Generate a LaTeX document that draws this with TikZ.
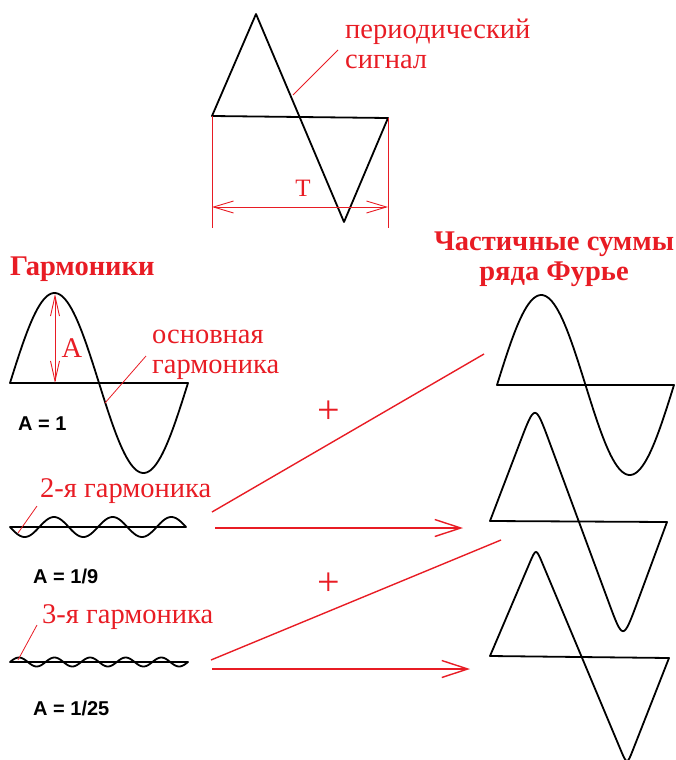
\documentclass[tikz,border=0pt]{standalone}
\usepackage{fontspec}
\setmainfont{Liberation Serif}
\newfontfamily\ampfont{Liberation Sans}
\usetikzlibrary{arrows.meta,positioning,calc}
\definecolor{sigred}{RGB}{232,28,36}

\begin{document}
\begin{tikzpicture}[x=1pt,y=-1pt,
  wave/.style={line width=1.8pt,line join=round},
  redline/.style={sigred,line width=1.4pt},
  leader/.style={sigred,line width=0.8pt},
  dimline/.style={sigred,line width=0.9pt},
  barb/.style={-{Straight Barb[length=26pt,width=17pt]}},
  dimbarb/.style={{Straight Barb[length=20pt,width=12pt]}-{Straight Barb[length=20pt,width=12pt]}},
  lbl/.style={text=sigred,font=\fontsize{28.5}{30}\selectfont,inner sep=0pt,align=left},
  head/.style={text=sigred,font=\bfseries\fontsize{28.5}{30}\selectfont,inner sep=0pt,align=center},
  amp/.style={font=\ampfont\bfseries\fontsize{20}{22}\selectfont,inner sep=0pt},
  plus/.style={text=sigred,font=\fontsize{40}{40}\selectfont,inner sep=0pt}]
\useasboundingbox (0,0) rectangle (676,760);

% periodic signal (triangle) with its period
\coordinate (tri-l) at (212,116);
\coordinate (tri-r) at (388,118);
\draw[wave] (tri-l) -- (256,14) -- (344,222) -- (tri-r) -- cycle;
\coordinate (tri-lb) at (212,228);
\coordinate (tri-rb) at (388,228);
\draw[dimline] (tri-l) -- (tri-lb);
\draw[dimline] (tri-r) -- (tri-rb);
\draw[dimline,dimbarb] (212,207) -- (388,207);
\node[lbl,font=\fontsize{25}{26}\selectfont,anchor=base] (period) at (303,196) {T};
\node[lbl,anchor=base west] (signal) at (345,68) {периодический\\сигнал};
\coordinate (signal-tip) at (293,95);
\coordinate (signal-end) at (338,50);
\draw[leader] (signal-tip) -- (signal-end);

% headings
\node[head,anchor=base west] (harm) at (10,275) {Гармоники};
\node[head,anchor=base] (sums) at (554,280) {Частичные суммы\\ряда Фурье};

% fundamental
\draw[wave] plot[domain=0:360,samples=91,smooth] ({10+\x/360*178},{383-90*sin(\x)}) -- cycle;
\coordinate (a-top) at (55,294);
\coordinate (a-bot) at (55,383);
\draw[dimline,{Straight Barb[length=20pt,width=9pt]}-{Straight Barb[length=20pt,width=9pt]}] (a-top) -- (a-bot);
\node[lbl,anchor=base] (amp-a) at (72,357) {A};
\node[lbl,anchor=base west] (fund) at (152,373) {основная\\гармоника};
\coordinate (fund-tip) at (105,403);
\coordinate (fund-end) at (146,356);
\draw[leader] (fund-tip) -- (fund-end);
\node[amp,anchor=base west] (amp1) at (18,430) {A = 1};

% 2nd harmonic
\draw[wave] plot[domain=0:360,samples=121,smooth] ({10+\x/360*176},{527+10*sin(3*\x)}) -- cycle;
\node[lbl,anchor=base west] (second) at (40,497) {2-я гармоника};
\coordinate (second-tip) at (18,533);
\coordinate (second-end) at (37,506);
\draw[leader] (second-tip) -- (second-end);
\node[amp,anchor=base west] (amp2) at (33,583) {A = 1/9};

% 3rd harmonic
\draw[wave] plot[domain=0:360,samples=151,smooth] ({10+\x/360*178},{662-4.5*sin(5*\x)}) -- cycle;
\node[lbl,anchor=base west] (third) at (42,623) {3-я гармоника};
\coordinate (third-tip) at (18,660);
\coordinate (third-end) at (37,625);
\draw[leader] (third-tip) -- (third-end);
\node[amp,anchor=base west] (amp3) at (33,715) {A = 1/25};

% partial sums
\draw[wave] plot[domain=0:360,samples=91,smooth] ({497+\x/360*177},{385-90*sin(\x)}) -- cycle;
% second sum: triangle with rounded tops
\coordinate (s2-a) at (490,521);
\coordinate (s2-v) at (535,403);
\coordinate (s2-w) at (623,641);
\coordinate (s2-b) at (667,522);
\draw[wave] (s2-a) -- ($(s2-v)!42pt!(s2-a)$) .. controls (s2-v) .. ($(s2-v)!42pt!(s2-w)$)
  -- ($(s2-w)!42pt!(s2-v)$) .. controls (s2-w) .. ($(s2-w)!42pt!(s2-b)$) -- (s2-b) -- cycle;
% third sum: sharper
\coordinate (s3-a) at (490,656);
\coordinate (s3-v) at (536,548);
\coordinate (s3-w) at (627,765);
\coordinate (s3-b) at (669,658);
\draw[wave] (s3-a) -- ($(s3-v)!17pt!(s3-a)$) .. controls (s3-v) .. ($(s3-v)!17pt!(s3-w)$)
  -- ($(s3-w)!17pt!(s3-v)$) .. controls (s3-w) .. ($(s3-w)!17pt!(s3-b)$) -- (s3-b) -- cycle;

% connectors
\coordinate (h2-up) at (212,512);
\coordinate (s1-in) at (484,354);
\coordinate (h2-out) at (215,528);
\coordinate (s2-in) at (463,528);
\coordinate (h3-up) at (211,660);
\coordinate (s2-low) at (501,540);
\coordinate (h3-out) at (212,669);
\coordinate (s3-in) at (470,669);
\draw[redline] (h2-up) -- (s1-in);
\draw[redline,barb] (h2-out) -- (s2-in);
\draw[redline] (h3-up) -- (s2-low);
\draw[redline,barb] (h3-out) -- (s3-in);
\node[plus] (plus1) at (329,412) {+};
\node[plus] (plus2) at (329,584) {+};
\end{tikzpicture}
\end{document}
